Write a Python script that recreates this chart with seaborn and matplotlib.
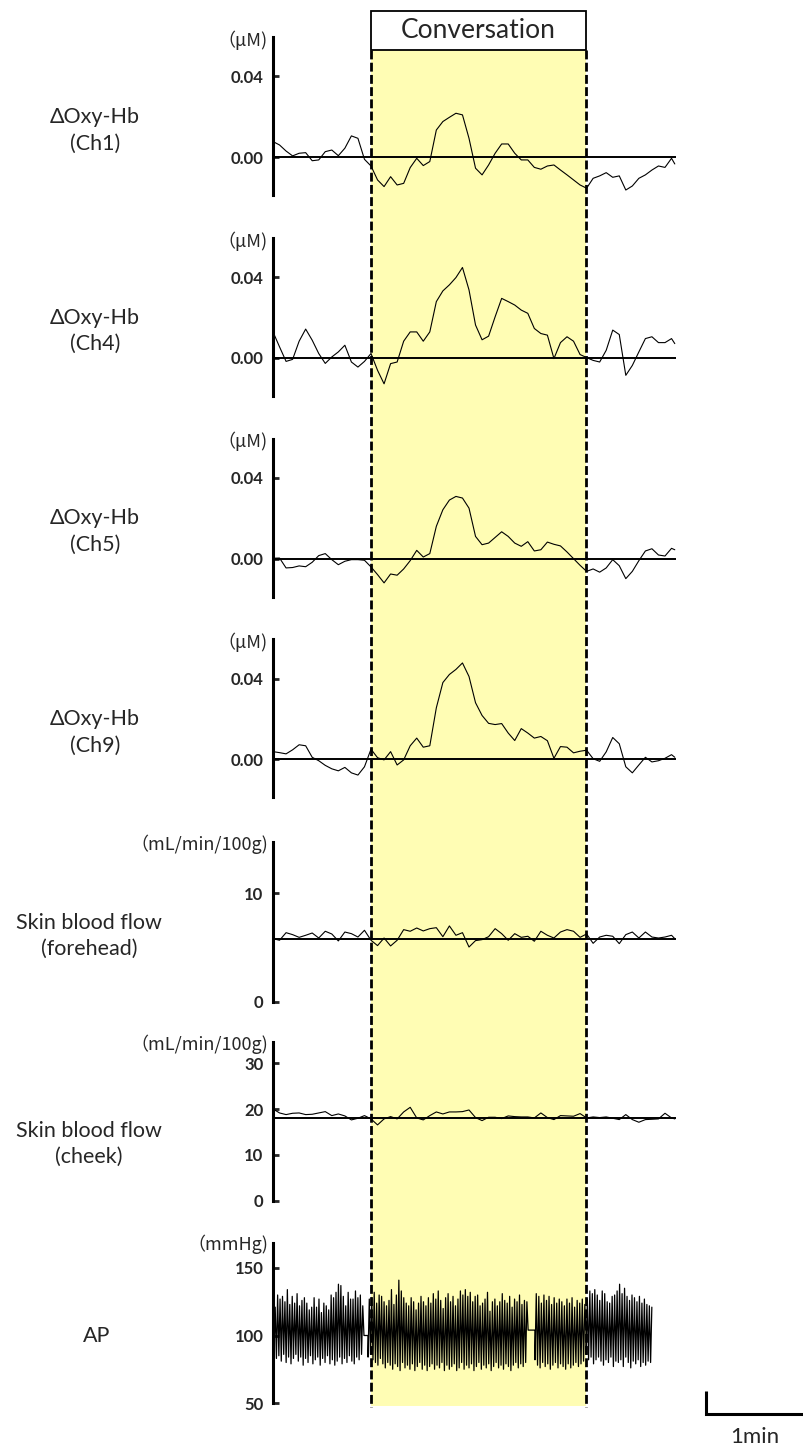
import numpy as np
import matplotlib
matplotlib.use('Agg')
import matplotlib.pyplot as plt
import seaborn as sns
from matplotlib.patches import Rectangle

# sample times (s) of the NIRS and skin blood flow traces
t_sec = list(range(0, 245, 4)) + [246]

# delta Oxy-Hb (uM)
oxy_ch1 = [0.0078, 0.0061, 0.0031, 0.0007, 0.0020, 0.0023, -0.0017, -0.0013, 0.0028, 0.0036,
           0.0008, 0.0045, 0.0106, 0.0094, -0.0010, -0.0043, -0.0112, -0.0145, -0.0096, -0.0137,
           -0.0129, -0.0051, -0.0005, -0.0041, -0.0021, 0.0135, 0.0177, 0.0198, 0.0218, 0.0210,
           0.0094, -0.0054, -0.0087, -0.0038, 0.0020, 0.0066, 0.0066, 0.0020, -0.0013, -0.0013,
           -0.0050, -0.0059, -0.0043, -0.0038, -0.0063, -0.0087, -0.0112, -0.0137, -0.0153, -0.0104,
           -0.0092, -0.0076, -0.0099, -0.0092, -0.0162, -0.0142, -0.0104, -0.0087, -0.0063, -0.0043,
           -0.0050, -0.0005, -0.0033]
oxy_ch4 = [0.0129, 0.0055, -0.0017, -0.0007, 0.0083, 0.0143, 0.0088, 0.0022, -0.0027, 0.0005,
           0.0030, 0.0063, -0.0020, -0.0045, -0.0017, 0.0022, -0.0061, -0.0128, -0.0028, -0.0020,
           0.0083, 0.0129, 0.0129, 0.0083, 0.0129, 0.0279, 0.0332, 0.0362, 0.0398, 0.0448,
           0.0337, 0.0163, 0.0090, 0.0108, 0.0204, 0.0295, 0.0279, 0.0262, 0.0237, 0.0221,
           0.0146, 0.0121, 0.0113, -0.0003, 0.0076, 0.0105, 0.0083, 0.0017, 0.0002, -0.0012,
           -0.0020, 0.0038, 0.0138, 0.0116, -0.0086, -0.0037, 0.0030, 0.0096, 0.0105, 0.0076,
           0.0076, 0.0096, 0.0071]
oxy_ch5 = [0.0002, 0.0003, -0.0046, -0.0044, -0.0036, -0.0040, -0.0018, 0.0015, 0.0025, -0.0005,
           -0.0030, -0.0013, -0.0005, -0.0005, -0.0008, -0.0041, -0.0079, -0.0120, -0.0076, -0.0082,
           -0.0051, -0.0010, 0.0041, 0.0008, 0.0025, 0.0160, 0.0242, 0.0290, 0.0308, 0.0300,
           0.0250, 0.0110, 0.0069, 0.0077, 0.0105, 0.0133, 0.0110, 0.0077, 0.0061, 0.0084,
           0.0038, 0.0044, 0.0082, 0.0071, 0.0063, 0.0033, 0.0000, -0.0033, -0.0063, -0.0051,
           -0.0067, -0.0046, -0.0005, -0.0035, -0.0099, -0.0063, -0.0010, 0.0038, 0.0049, 0.0018,
           0.0013, 0.0051, 0.0044]
oxy_ch9 = [0.0038, 0.0033, 0.0027, 0.0047, 0.0072, 0.0067, 0.0010, -0.0007, -0.0030, -0.0047,
           -0.0057, -0.0040, -0.0067, -0.0078, -0.0037, 0.0050, 0.0008, -0.0003, 0.0038, -0.0028,
           -0.0003, 0.0067, 0.0105, 0.0060, 0.0067, 0.0255, 0.0380, 0.0420, 0.0445, 0.0477,
           0.0410, 0.0280, 0.0217, 0.0178, 0.0172, 0.0177, 0.0130, 0.0093, 0.0152, 0.0130,
           0.0105, 0.0113, 0.0092, 0.0005, 0.0063, 0.0060, 0.0032, 0.0040, 0.0045, 0.0003,
           -0.0010, 0.0037, 0.0108, 0.0077, -0.0037, -0.0067, -0.0028, 0.0010, -0.0013, -0.0007,
           0.0005, 0.0023, 0.0010]

# skin blood flow (mL/min/100g)
sbf_forehead = [5.80, 5.65, 6.35, 6.17, 5.92, 6.11, 6.32, 5.86, 6.48, 6.23,
                5.59, 6.41, 6.26, 5.95, 6.57, 5.65, 5.16, 5.86, 5.13, 5.65,
                6.63, 6.48, 6.78, 6.51, 6.72, 6.81, 5.98, 6.97, 6.11, 6.35,
                5.03, 5.62, 5.71, 5.98, 6.72, 6.26, 5.65, 6.26, 5.92, 6.02,
                5.56, 6.48, 6.11, 5.86, 6.41, 6.63, 6.48, 5.92, 6.23, 5.37,
                5.95, 6.11, 6.02, 5.34, 6.17, 6.41, 5.86, 6.41, 5.95, 5.86,
                5.95, 6.11, 5.80]
sbf_cheek = [20.03, 19.16, 18.80, 19.09, 19.16, 18.80, 18.87, 19.16, 19.45, 18.58,
             18.94, 18.51, 17.64, 18.00, 18.58, 17.86, 16.55, 17.86, 18.36, 17.86,
             19.38, 20.39, 18.07, 17.64, 18.58, 19.38, 18.94, 19.38, 19.38, 19.45,
             19.81, 18.15, 17.49, 18.22, 18.22, 17.93, 18.51, 18.36, 18.29, 18.29,
             18.07, 19.16, 18.15, 17.71, 18.58, 18.51, 18.44, 19.02, 18.07, 18.29,
             18.15, 18.29, 18.00, 17.71, 18.80, 17.71, 17.13, 17.71, 17.78, 17.86,
             19.09, 18.07, 17.86]
baselines = [0.0, 0.0, 0.0, 0.0, 5.77, 18.0]

# arterial pressure, beat by beat (mmHg), in four recorded segments
ap_segments = [(0.6, 55.7), (58.2, 156.2), (160.4, 191.7), (191.7, 232.7)]
ap_gap_level = [100, 104, 100]
ap_sys = [
    [121, 130, 127, 129, 125, 134, 123, 129, 124, 131,
     122, 126, 128, 124, 119, 121, 128, 121, 127, 117,
     124, 122, 119, 130, 128, 132, 138, 137, 129, 122,
     132, 127, 127, 133, 128, 130, 122],
    [127, 128, 132, 124, 130, 129, 125, 122, 126, 134,
     123, 130, 141, 133, 128, 124, 122, 128, 125, 119,
     124, 129, 125, 122, 128, 124, 131, 127, 133, 126,
     120, 128, 131, 125, 129, 122, 127, 133, 130, 134,
     129, 132, 125, 129, 130, 122, 124, 127, 132, 118,
     125, 127, 122, 125, 131, 126, 124, 129, 121, 127,
     125, 130, 123, 126, 125],
    [131, 129, 124, 130, 126, 129, 123, 128, 124, 127,
     125, 122, 127, 124, 128, 121, 126, 124, 127, 123],
    [127, 133, 131, 134, 130, 126, 133, 131, 125, 124,
     129, 130, 133, 138, 131, 135, 129, 126, 130, 128,
     125, 129, 124, 127, 123, 122, 121],
]
ap_dia = [
    [88, 83, 85, 81, 86, 80, 84, 79, 83, 86,
     81, 84, 78, 83, 80, 85, 79, 82, 84, 78,
     83, 80, 85, 79, 82, 78, 81, 84, 79, 83,
     80, 85, 81, 79, 84, 82, 86],
    [84, 86, 82, 80, 78, 83, 79, 76, 80, 78,
     75, 79, 77, 74, 80, 76, 78, 75, 79, 74,
     77, 80, 75, 78, 74, 77, 79, 75, 78, 76,
     80, 74, 78, 75, 77, 79, 74, 76, 80, 75,
     78, 76, 79, 74, 77, 80, 75, 78, 76, 79,
     74, 77, 80, 76, 78, 75, 79, 77, 74, 78,
     80, 76, 79, 77, 80],
    [82, 78, 76, 80, 77, 79, 75, 78, 80, 76,
     79, 77, 75, 79, 76, 78, 80, 77, 79, 81],
    [86, 82, 84, 79, 82, 84, 81, 78, 82, 80,
     84, 77, 81, 80, 82, 77, 84, 80, 76, 81,
     79, 82, 77, 80, 78, 81, 80],
]

conv_start, conv_end = 60.0, 191.7

W, H = 804, 1447
PX_PER_S = 98 / 60          # 1 min scale bar = 98 px
AX_LEFT, AX_RIGHT = 273, 676
T_END = (AX_RIGHT - AX_LEFT) / PX_PER_S

sns.set_style('white')
plt.rcParams['font.family'] = ['Lato', 'Noto Sans CJK JP', 'DejaVu Sans']
UNIT_FONT = ['Noto Sans CJK TC', 'DejaVu Sans']

fig = plt.figure(figsize=(W / 100, H / 100), dpi=100)


def fig_rect(left, top, right, bottom):
    return [left / W, 1 - bottom / H, (right - left) / W, (bottom - top) / H]


def unit_label(text, top):
    # full-width opening bracket as in the original
    fig.text(268 / W, 1 - (top + 3) / H, text, ha='right', va='center',
             fontsize=13, family=UNIT_FONT)


# background: conversation band, dashed borders, title box, scale bar
bg = fig.add_axes([0, 0, 1, 1])
bg.set_xlim(-AX_LEFT / PX_PER_S, (W - AX_LEFT) / PX_PER_S)
bg.set_ylim(H, 0)
bg.axis('off')
bg.fill_between([conv_start, conv_end], 50, 1406, color='#FFFDB4', lw=0)
bg.vlines([conv_start, conv_end], 50, 1407, colors='black', lw=2,
          linestyles=(0, (3.2, 1.2)))
bg.add_patch(Rectangle((conv_start, 11), conv_end - conv_start, 39,
                       facecolor='white', edgecolor='black', lw=1.3))
bg.text((conv_start + conv_end) / 2, 31, 'Conversation', ha='center', va='center', fontsize=19)
sb_x = (706 - AX_LEFT) / PX_PER_S
bg.plot([sb_x, sb_x, sb_x + 60], [1391, 1414, 1414], color='black', lw=2.2,
        solid_joinstyle='miter', solid_capstyle='butt')
bg.text(sb_x + 30, 1437, '1min', ha='center', va='center', fontsize=16)


def style_axis(ax, ylim, ticks, labels):
    ax.set_facecolor('none')
    ax.set_xlim(0, T_END)
    ax.set_ylim(*ylim)
    for s in ['top', 'right', 'bottom']:
        ax.spines[s].set_visible(False)
    ax.spines['left'].set_linewidth(2.2)
    ax.spines['left'].set_color('black')
    ax.set_xticks([])
    ax.set_yticks(ticks)
    ax.set_yticklabels(labels, fontweight='bold', fontsize=12)
    ax.tick_params(axis='y', direction='in', length=4, width=2, pad=7, left=True)
    ax.set_xlabel('')
    ax.set_ylabel('')


nirs = [oxy_ch1, oxy_ch4, oxy_ch5, oxy_ch9]
nirs_names = ['ΔOxy-Hb\n(Ch1)', 'ΔOxy-Hb\n(Ch4)', 'ΔOxy-Hb\n(Ch5)', 'ΔOxy-Hb\n(Ch9)']
PX_PER_UM = 2020

for k, vals in enumerate(nirs):
    zero = 157.3 + 200.67 * k
    top, bottom = zero - 120, zero + 38
    ax = fig.add_axes(fig_rect(AX_LEFT, top, AX_RIGHT, bottom))
    sns.lineplot(x=t_sec, y=vals, ax=ax, color='black', linewidth=0.8, estimator=None)
    ax.axhline(baselines[k], color='black', lw=1.4)
    style_axis(ax, (-38 / PX_PER_UM, 120 / PX_PER_UM), [0, 0.04], ['0.00', '0.04'])
    unit_label('（μM)', top)
    fig.text(95 / W, 1 - (zero - 27) / H, nirs_names[k], ha='center', va='center',
             fontsize=15.5, linespacing=1.4)

# skin blood flow panels
sbf = [
    (sbf_forehead, 841.7, 1001.7, 10.87, [0, 10], 'Skin blood flow\n(forehead)', 936),
    (sbf_cheek, 1041.7, 1200.7, 4.58, [0, 10, 20, 30], 'Skin blood flow\n(cheek)', 1144),
]
for i, (vals, top, bottom, ppu, ticks, name, cy) in enumerate(sbf):
    ax = fig.add_axes(fig_rect(AX_LEFT, top, AX_RIGHT, bottom))
    sns.lineplot(x=t_sec, y=vals, ax=ax, color='black', linewidth=0.8, estimator=None)
    ax.axhline(baselines[4 + i], color='black', lw=1.4)
    style_axis(ax, (0, (bottom - top) / ppu), ticks, [str(t) for t in ticks])
    unit_label('（mL/min/100g)', top)
    fig.text(89 / W, 1 - cy / H, name, ha='center', va='center', fontsize=15.5, linespacing=1.4)

# arterial pressure: beats of each segment, short flat joins across recording gaps
ap_t, ap_v = [], []
for j, ((t0, t1), sys_vals, dia_vals) in enumerate(zip(ap_segments, ap_sys, ap_dia)):
    edges = np.linspace(t0, t1, len(sys_vals) + 1)
    if j > 0:
        ap_t.append(t0)
        ap_v.append(ap_gap_level[j - 1])
    for i in range(len(sys_vals)):
        ap_t += [edges[i], (edges[i] + edges[i + 1]) / 2]
        ap_v += [dia_vals[i], sys_vals[i]]
    if j < len(ap_segments) - 1:
        ap_t.append(t1)
        ap_v.append(ap_gap_level[j])

top, bottom = 1243, 1403
ax = fig.add_axes(fig_rect(AX_LEFT, top, AX_RIGHT, bottom))
sns.lineplot(x=ap_t, y=ap_v, ax=ax, color='black', linewidth=0.9, estimator=None, sort=False)
style_axis(ax, (50, 50 + (bottom - top) / 1.35), [50, 100, 150], ['50', '100', '150'])
unit_label('（mmHg)', top - 2)
fig.text(97 / W, 1 - 1336 / H, 'AP', ha='center', va='center', fontsize=15.5)

fig.savefig('out.png', dpi=100)
